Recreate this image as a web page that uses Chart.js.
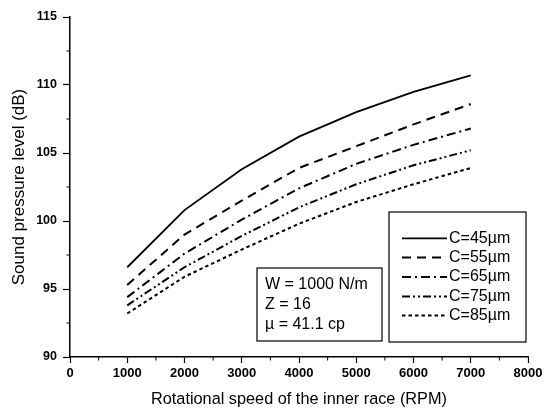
<!DOCTYPE html>
<html><head><meta charset="utf-8">
<script src="https://cdn.jsdelivr.net/npm/chart.js@4/dist/chart.umd.min.js"></script>
<style>html,body{margin:0;padding:0;background:#fff;}#wrap{width:550px;height:412px;position:relative;}</style>
</head><body><div id="wrap"><canvas id="c" width="550" height="412"></canvas></div>
<script>
const speeds = [1000, 2000, 3000, 4000, 5000, 6000, 7000];
const c45 = [96.6, 100.8, 103.8, 106.2, 108.0, 109.5, 110.7];
const c55 = [95.3, 99.0, 101.5, 103.9, 105.5, 107.1, 108.6];
const c65 = [94.4, 97.6, 100.1, 102.4, 104.2, 105.6, 106.8];
const c75 = [93.8, 96.6, 98.9, 101.0, 102.7, 104.1, 105.2];
const c85 = [93.2, 95.9, 97.9, 99.8, 101.4, 102.7, 103.9];
const seriesLabels = ['C=45\u00b5m', 'C=55\u00b5m', 'C=65\u00b5m', 'C=75\u00b5m', 'C=85\u00b5m'];
const infoLines = ['W = 1000 N/m', 'Z = 16', '\u00b5 = 41.1 cp'];
const xTitle = 'Rotational speed of the inner race (RPM)';
const yTitle = 'Sound pressure level (dB)';

const dashes = [[], [9,6], [9,4,2,4], [8,3,2,3,2,3], [3.5,3]];
const widths = [1.8, 2, 2, 2, 2];
const all = [c45, c55, c65, c75, c85];

const datasets = all.map((arr, i) => ({
  label: seriesLabels[i],
  data: arr.map((v, j) => ({x: speeds[j], y: v})),
  borderColor: '#000',
  borderWidth: widths[i],
  borderDash: dashes[i],
  pointRadius: 0,
  fill: false,
  tension: 0
}));

const FONT = "'Liberation Sans', Arial, sans-serif";

const extras = {
  id: 'extras',
  afterDraw(chart) {
    const ctx = chart.ctx;
    const xs = chart.scales.x, ys = chart.scales.y;
    ctx.save();
    ctx.strokeStyle = '#000';
    ctx.lineWidth = 1;
    for (let v = 500; v < 8000; v += 1000) {
      const px = xs.getPixelForValue(v);
      ctx.beginPath(); ctx.moveTo(px, ys.bottom); ctx.lineTo(px, ys.bottom + 3.5); ctx.stroke();
    }
    for (let v = 92.5; v < 115; v += 5) {
      const py = ys.getPixelForValue(v);
      ctx.beginPath(); ctx.moveTo(xs.left, py); ctx.lineTo(xs.left - 3.5, py); ctx.stroke();
    }
    ctx.lineWidth = 1.2;
    ctx.strokeRect(257, 268, 125, 73);
    ctx.fillStyle = '#000';
    ctx.font = '16px ' + FONT;
    ctx.textBaseline = 'middle';
    ctx.textAlign = 'left';
    const iy = [285, 305, 324.5];
    infoLines.forEach((t, i) => ctx.fillText(t, 265, iy[i]));
    ctx.lineWidth = 1.2;
    ctx.strokeRect(389, 212, 137, 130);
    const ly = [238.3, 257.5, 277, 296.5, 315.5];
    datasets.forEach((d, i) => {
      ctx.beginPath();
      ctx.setLineDash(d.borderDash);
      ctx.lineWidth = d.borderWidth;
      ctx.moveTo(402, ly[i]); ctx.lineTo(447, ly[i]);
      ctx.stroke();
      ctx.setLineDash([]);
      ctx.fillText(d.label, 449, ly[i]);
    });
    ctx.restore();
  }
};

new Chart(document.getElementById('c'), {
  type: 'line',
  data: { datasets },
  options: {
    responsive: false,
    animation: false,
    devicePixelRatio: 1,
    layout: { padding: { left: 0, right: 22, top: 17, bottom: 0 } },
    plugins: { legend: { display: false }, tooltip: { enabled: false } },
    scales: {
      x: {
        type: 'linear', min: 0, max: 8000,
        afterFit: s => { s.height = 55; },
        ticks: { stepSize: 1000, color: '#000', font: { family: FONT, size: 13, weight: 'bold' }, padding: 3, maxRotation: 0,
                 callback: v => String(v) },
        grid: { display: true, drawOnChartArea: false, drawTicks: true, tickLength: 6, color: '#000', tickWidth: 1.2 },
        border: { display: true, color: '#000', width: 1.5 },
        title: { display: true, text: xTitle, color: '#000', font: { family: FONT, size: 16.3 }, padding: { top: 3.2, bottom: 3.2 } }
      },
      y: {
        type: 'linear', min: 90, max: 115,
        afterFit: s => { s.width = 70; },
        ticks: { stepSize: 5, color: '#000', font: { family: FONT, size: 12.5, weight: 'bold' }, padding: 6,
                 callback: v => String(v) },
        grid: { display: true, drawOnChartArea: false, drawTicks: true, tickLength: 7, color: '#000', tickWidth: 1.2 },
        border: { display: true, color: '#000', width: 1.5 },
        title: { display: true, text: yTitle, color: '#000', font: { family: FONT, size: 17 }, padding: { top: 9, bottom: 0 } }
      }
    }
  },
  plugins: [extras]
});
</script>
</body></html>
